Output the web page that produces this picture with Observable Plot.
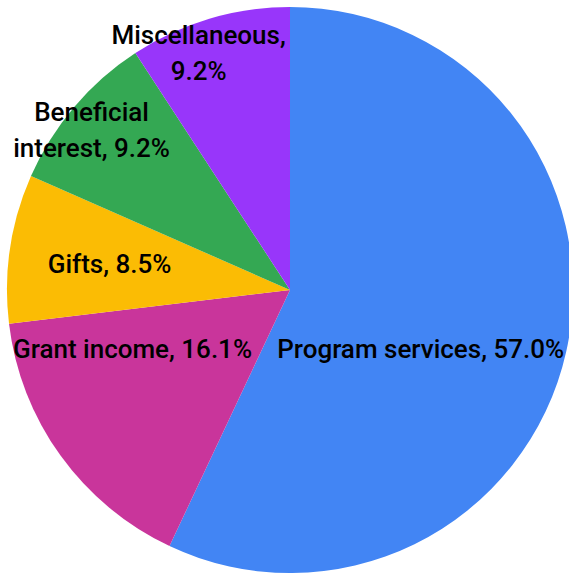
<!DOCTYPE html>
<html>
<head>
<meta charset="utf-8">
<script src="https://cdn.jsdelivr.net/npm/d3@7"></script>
<script src="https://cdn.jsdelivr.net/npm/@observablehq/plot@0.6"></script>
<style>
  html, body { margin: 0; padding: 0; background: #fff; }
  #chart svg { display: block; }
</style>
</head>
<body>
<div id="chart"></div>
<script>
// ---- data ----
const categories = ["Program services", "Grant income", "Gifts", "Beneficial interest", "Miscellaneous"];
const shares = [57.0, 16.1, 8.5, 9.2, 9.2];
const labels = ["Program services, 57.0%", "Grant income, 16.1%", "Gifts, 8.5%", "Beneficial\ninterest, 9.2%", "Miscellaneous,\n9.2%"];
const colors = ["#4285F4", "#C9359B", "#FBBC04", "#34A853", "#9836FA"];

// ---- label layout (polar, relative to pie: degrees clockwise from top, fraction of radius) ----
const labelLayout = [
  {angle: 114.4, r: 0.505},
  {angle: 249.5, r: 0.596},
  {angle: 278.2, r: 0.646},
  {angle: 308.8, r: 0.902},
  {angle: 338.8, r: 0.898}
];

const table = categories.map((c, i) => ({category: c, share: shares[i], label: labels[i]}));
const arcs = d3.pie().sort(null).value(d => d.share)(table);
const colorOf = d3.scaleOrdinal(categories, colors);

const labelData = table.map((d, i) => {
  const a = labelLayout[i].angle * Math.PI / 180;
  return {...d, lx: labelLayout[i].r * Math.sin(a), ly: -labelLayout[i].r * Math.cos(a)};
});

const chart = Plot.plot({
  width: 569,
  height: 573,
  margin: 0,
  style: {background: "#fff"},
  x: {domain: [-1, 1], range: [7, 573], axis: null},
  y: {domain: [-1, 1], range: [7, 573], axis: null},
  marks: [
    (index, scales) => {
      const cx = scales.x(0), cy = scales.y(0);
      const r = scales.x(1) - scales.x(0);
      const g = d3.create("svg:g").attr("transform", `translate(${cx},${cy})`);
      g.selectAll("path")
        .data(arcs)
        .join("path")
        .attr("d", d3.arc().innerRadius(0).outerRadius(r))
        .attr("fill", d => colorOf(d.data.category));
      return g.node();
    },
    Plot.text(labelData, {
      x: "lx",
      y: "ly",
      text: "label",
      fill: "#000",
      fontSize: 26,
      fontWeight: 500,
      fontFamily: "Roboto",
      lineHeight: 1.38,
      dy: -3,
      textAnchor: "middle"
    })
  ]
});
document.getElementById("chart").append(chart);
</script>
</body>
</html>
